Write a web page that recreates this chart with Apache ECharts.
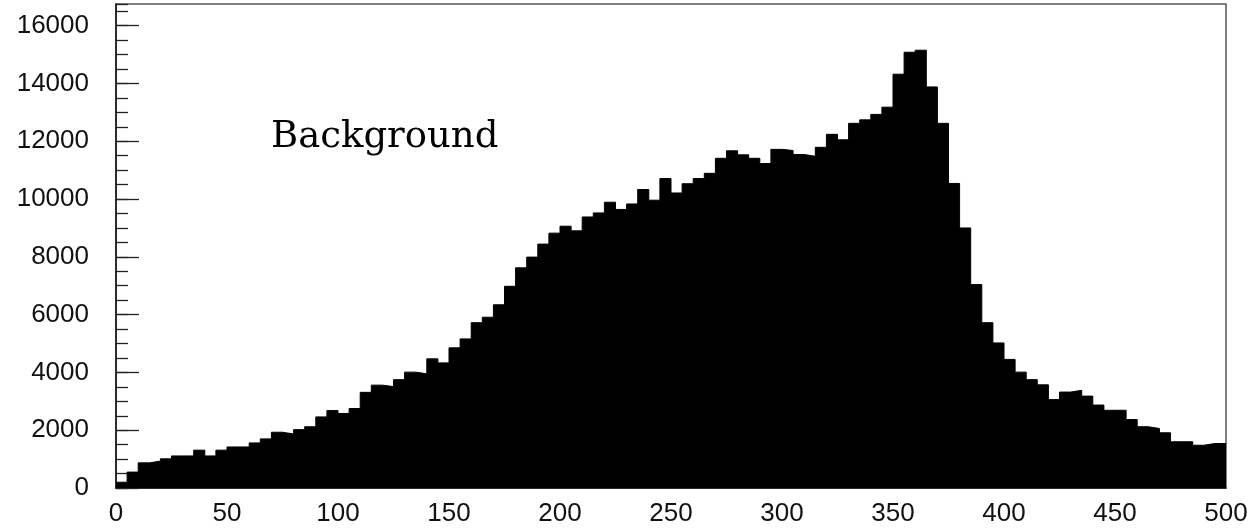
<!DOCTYPE html>
<html>
<head>
<meta charset="utf-8">
<title>Background</title>
<script src="https://cdn.jsdelivr.net/npm/echarts@6/dist/echarts.min.js"></script>
<style>
  html, body { margin: 0; padding: 0; background: #fff; }
  #chart { width: 1252px; height: 528px; }
</style>
</head>
<body>
<div id="chart"></div>
<script>
// Histogram binning: 100 bins of width 5 over [0, 500]
const xMin = 0;
const xMax = 500;
const binWidth = 5;

// Entries per bin
const counts = [
  200, 550, 870, 930, 1010, 1110, 1110, 1310, 1110, 1310,
  1420, 1420, 1560, 1700, 1930, 1870, 2020, 2120, 2460, 2680,
  2580, 2750, 3310, 3560, 3510, 3750, 4010, 3950, 4470, 4330,
  4850, 5160, 5720, 5910, 6340, 6980, 7620, 7990, 8440, 8820,
  9060, 8900, 9380, 9520, 9890, 9640, 9830, 10330, 9960, 10710,
  10210, 10530, 10710, 10890, 11410, 11670, 11530, 11410, 11230, 11720,
  11680, 11540, 11480, 11790, 12240, 12050, 12620, 12740, 12930, 13180,
  14320, 15080, 15150, 13880, 12620, 10540, 9000, 7040, 5720, 5020,
  4450, 4010, 3750, 3570, 3060, 3320, 3380, 3180, 2870, 2690,
  2690, 2370, 2120, 2060, 1910, 1600, 1600, 1480, 1540, 1540
];

// Axis settings
const yMax = 16750;
const yMajorStep = 2000;
const yMinorStep = 500;
const xStep = 50;
const histTitle = 'Background';

// Step outline: each bin's count held from its lower edge to the next edge
const stepData = counts.map((c, i) => [xMin + i * binWidth, c]);
stepData.push([xMax, counts[counts.length - 1]]);

const chart = echarts.init(document.getElementById('chart'), null, { renderer: 'canvas' });

const labelFont = {
  fontFamily: '"Liberation Sans", Arial, sans-serif',
  fontSize: 26,
  color: '#111'
};

chart.setOption({
  animation: false,
  backgroundColor: '#fff',
  grid: {
    left: 116, right: 26, top: 4, bottom: 40,
    show: true,
    borderColor: '#555',
    borderWidth: 1.5,
    backgroundColor: 'transparent'
  },
  xAxis: {
    type: 'value',
    min: xMin,
    max: xMax,
    interval: xStep,
    axisLine: { show: true, onZero: false, lineStyle: { color: '#111', width: 1.5 } },
    axisTick: { show: false },
    splitLine: { show: false },
    axisLabel: Object.assign({ margin: 13 }, labelFont)
  },
  yAxis: [
    {
      // minor ticks every 500
      type: 'value',
      min: 0,
      max: yMax,
      interval: yMinorStep,
      position: 'left',
      axisLine: { show: true, onZero: false, lineStyle: { color: '#111', width: 1.5 } },
      axisTick: { show: true, inside: true, length: 12, lineStyle: { color: '#222', width: 1.3 } },
      axisLabel: { show: false },
      splitLine: { show: false }
    },
    {
      // major ticks and labels every 2000
      type: 'value',
      min: 0,
      max: yMax,
      interval: yMajorStep,
      position: 'left',
      offset: 0,
      axisLine: { show: false },
      axisTick: { show: true, inside: true, length: 23, lineStyle: { color: '#222', width: 1.3 } },
      axisLabel: Object.assign({
        margin: 27,
        showMaxLabel: false,
        formatter: v => (v % yMajorStep === 0 ? String(v) : '')
      }, labelFont),
      splitLine: { show: false }
    }
  ],
  series: [
    {
      type: 'line',
      name: histTitle,
      xAxisIndex: 0,
      yAxisIndex: 0,
      data: stepData,
      step: 'end',
      symbol: 'none',
      lineStyle: { color: '#000', width: 1 },
      areaStyle: { color: '#000', opacity: 1, origin: 'start' },
      z: 2
    }
  ],
  graphic: [
    {
      type: 'text',
      left: 271,
      top: 119,
      style: {
        text: histTitle,
        font: '37px "DejaVu Serif", "Liberation Serif", serif',
        fill: '#000'
      },
      z: 10
    }
  ]
});
</script>
</body>
</html>
